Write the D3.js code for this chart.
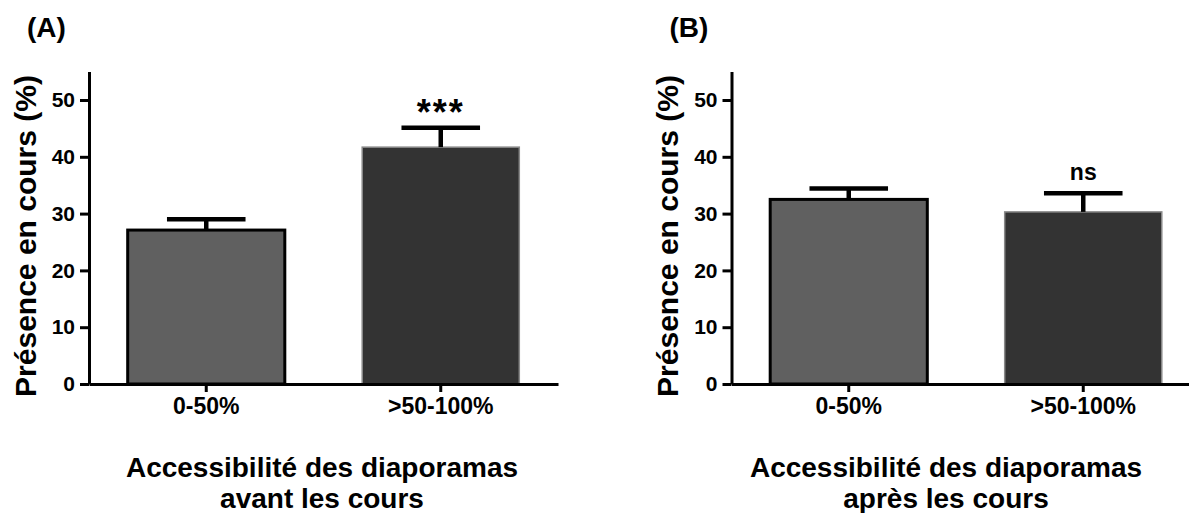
<!DOCTYPE html>
<html>
<head>
<meta charset="utf-8">
<script src="https://cdn.jsdelivr.net/npm/d3@7"></script>
<style>
body { margin: 0; background: #fff; }
svg text { font-family: "Liberation Sans", Arial, Helvetica, sans-serif; font-weight: bold; fill: #000; }
</style>
</head>
<body>
<div id="chart"></div>
<script>
// data
const categories = ["0-50%", ">50-100%"];
const yTicks = [0, 10, 20, 30, 40, 50];
const yMax = 55;

// panel A : avant les cours
const meansA = [27.1, 41.7];
const errA = [1.9, 3.4];
const sigA = ["", "***"];

// panel B : après les cours
const meansB = [32.5, 30.3];
const errB = [1.9, 3.3];
const sigB = ["", "ns"];

const barColors = ["#606060", "#333333"];
const barStrokes = ["#000", "#8a8a8a"];

const w = 1189, h = 513;
const y0 = 384, plotW = 469;

const svg = d3.select("#chart").append("svg")
  .attr("width", w)
  .attr("height", h);

const yScale = d3.scaleLinear().domain([0, yMax]).range([y0, y0 - yMax * 5.68]);

function drawPanel(left, letter, means, errs, sig, title, titleX) {
  const g = svg.append("g");

  const xScale = d3.scaleBand()
    .domain(categories)
    .range([left, left + plotW])
    .paddingInner(0.33)
    .paddingOuter(0.165);

  // bars
  g.selectAll("rect.bar")
    .data(means)
    .enter()
    .append("rect")
    .attr("class", "bar")
    .attr("x", (d, i) => xScale(categories[i]))
    .attr("y", d => yScale(d))
    .attr("width", xScale.bandwidth())
    .attr("height", d => y0 - yScale(d))
    .attr("fill", (d, i) => barColors[i])
    .attr("stroke", (d, i) => barStrokes[i])
    .attr("stroke-width", (d, i) => i == 0 ? 3 : 1.5);

  // error bars (upper only)
  const cx = i => xScale(categories[i]) + xScale.bandwidth() / 2;
  g.selectAll("line.err")
    .data(means)
    .enter()
    .append("line")
    .attr("x1", (d, i) => cx(i))
    .attr("x2", (d, i) => cx(i))
    .attr("y1", d => yScale(d))
    .attr("y2", (d, i) => yScale(d + errs[i]))
    .attr("stroke", "#000")
    .attr("stroke-width", 4.5);
  g.selectAll("line.cap")
    .data(means)
    .enter()
    .append("line")
    .attr("x1", (d, i) => cx(i) - xScale.bandwidth() / 4)
    .attr("x2", (d, i) => cx(i) + xScale.bandwidth() / 4)
    .attr("y1", (d, i) => yScale(d + errs[i]))
    .attr("y2", (d, i) => yScale(d + errs[i]))
    .attr("stroke", "#000")
    .attr("stroke-width", 4.5);

  // significance marks
  g.selectAll("text.sig")
    .data(sig)
    .enter()
    .append("text")
    .attr("x", (d, i) => cx(i))
    .attr("y", (d, i) => d == "***" ? yScale(means[i] + errs[i]) - 3 : yScale(means[i] + errs[i]) - 13)
    .attr("text-anchor", "middle")
    .style("font-size", (d) => d == "***" ? "36px" : "23px")
    .style("letter-spacing", d => d == "***" ? "2px" : "0px")
    .text(d => d);

  // axes
  const yAxis = d3.axisLeft(yScale).tickValues(yTicks).tickSize(9).tickSizeOuter(0).tickPadding(5);
  const ya = g.append("g")
    .attr("transform", "translate(" + left + ",0)")
    .call(yAxis);
  ya.select(".domain").attr("stroke-width", 3);
  ya.selectAll(".tick line").attr("stroke-width", 3);
  ya.selectAll(".tick text").style("font-size", "21px");

  const xAxis = d3.axisBottom(xScale).tickSize(8).tickSizeOuter(0).tickPadding(6);
  const xa = g.append("g")
    .attr("transform", "translate(0," + y0 + ")")
    .call(xAxis);
  xa.select(".domain").attr("stroke-width", 3);
  xa.selectAll(".tick line").attr("stroke-width", 3);
  xa.selectAll(".tick text").style("font-size", "23px");

  // y label
  g.append("text")
    .attr("transform", "translate(" + (left - 64) + ",236) rotate(-90)")
    .attr("text-anchor", "middle")
    .attr("dominant-baseline", "central")
    .style("font-size", "30px")
    .text("Présence en cours (%)");

  // x title, two lines
  const t = g.append("text")
    .attr("text-anchor", "middle")
    .style("font-size", "28px");
  t.append("tspan").attr("x", titleX).attr("y", 477).text(title[0]);
  t.append("tspan").attr("x", titleX).attr("y", 508).text(title[1]);

  // panel letter
  g.append("text")
    .attr("x", left - 62)
    .attr("y", 37)
    .style("font-size", "28px")
    .text(letter);
}

drawPanel(89, "(A)", meansA, errA, sigA, ["Accessibilité des diaporamas", "avant les cours"], 322);
drawPanel(731.5, "(B)", meansB, errB, sigB, ["Accessibilité des diaporamas", "après les cours"], 946);
</script>
</body>
</html>
